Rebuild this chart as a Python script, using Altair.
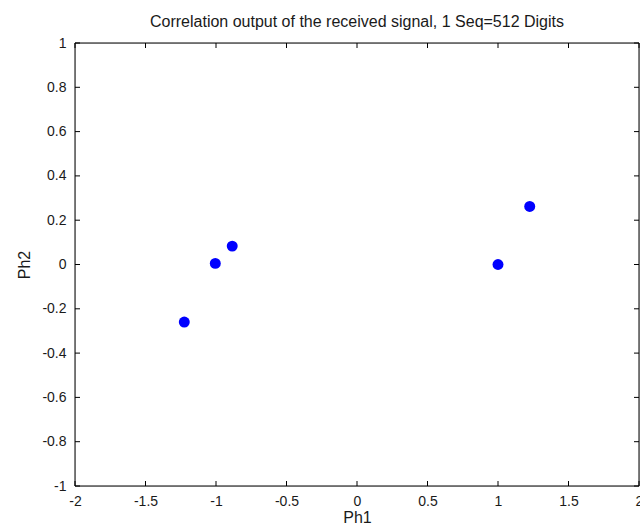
import altair as alt
import pandas as pd

ph1 = [-1.225, -1.005, -0.885, 1.0, 1.225]
ph2 = [-0.26, 0.005, 0.083, 0.0, 0.262]
x_ticks = [-2, -1.5, -1, -0.5, 0, 0.5, 1, 1.5, 2]
y_ticks = [-1, -0.8, -0.6, -0.4, -0.2, 0, 0.2, 0.4, 0.6, 0.8, 1]

W, H = 564, 443
FONT = "Liberation Sans"
TXT = "#1a1a1a"

pts = pd.DataFrame({"Ph1": ph1, "Ph2": ph2})
xt = pd.DataFrame({"v": x_ticks})
yt = pd.DataFrame({"v": y_ticks})

xs = alt.Scale(domain=[-2, 2], nice=False, zero=False)
ys = alt.Scale(domain=[-1, 1], nice=False, zero=False)

x_axis = alt.Axis(values=x_ticks, ticks=False, domain=False, grid=False,
                  labelFont=FONT, labelFontSize=14, labelColor=TXT,
                  labelPadding=8, labelExpr="datum.value + ''",
                  title="Ph1", titleFont=FONT, titleFontSize=16,
                  titleFontWeight="normal", titleColor=TXT,
                  titleBaseline="alphabetic", titleY=36,
                  labelFlush=False, labelOverlap=False)
y_axis = alt.Axis(values=y_ticks, ticks=False, domain=False, grid=False,
                  labelFont=FONT, labelFontSize=14, labelColor=TXT,
                  labelPadding=9, labelExpr="datum.value + ''",
                  title="Ph2", titleFont=FONT, titleFontSize=16,
                  titleFontWeight="normal", titleColor=TXT, titlePadding=9,
                  labelFlush=False, labelOverlap=False)

points = alt.Chart(pts).mark_circle(size=120, color="#0000FF", opacity=1).encode(
    x=alt.X("Ph1:Q", scale=xs, axis=x_axis),
    y=alt.Y("Ph2:Q", scale=ys, axis=y_axis),
)

def rule(df, **enc):
    return alt.Chart(df).mark_rule(color="#000", strokeWidth=1).encode(**enc)

bt = rule(xt, x=alt.X("v:Q", scale=xs), y=alt.value(H), y2=alt.value(H - 5))
tt = rule(xt, x=alt.X("v:Q", scale=xs), y=alt.value(0), y2=alt.value(5))
lt = rule(yt, y=alt.Y("v:Q", scale=ys), x=alt.value(0), x2=alt.value(5))
rt = rule(yt, y=alt.Y("v:Q", scale=ys), x=alt.value(W), x2=alt.value(W - 5))

frame_df = pd.DataFrame({"k": [0]})
f_top = rule(frame_df, x=alt.value(0), x2=alt.value(W), y=alt.value(0))
f_bot = rule(frame_df, x=alt.value(0), x2=alt.value(W), y=alt.value(H))
f_left = rule(frame_df, y=alt.value(0), y2=alt.value(H), x=alt.value(0))
f_right = rule(frame_df, y=alt.value(0), y2=alt.value(H), x=alt.value(W))

chart = alt.layer(bt, tt, lt, rt, f_top, f_bot, f_left, f_right, points).properties(
    width=W, height=H,
    title=alt.TitleParams("Correlation output of the received signal, 1 Seq=512 Digits",
                          font=FONT, fontSize=16, fontWeight="normal", color=TXT,
                          offset=6),
    autosize=alt.AutoSizeParams(type="none"),
    padding={"left": 75, "top": 43, "right": 1, "bottom": 45},
).configure_view(stroke=None).configure(background="white")

chart.save("out.html", embed_options={"renderer": "svg", "actions": False})
